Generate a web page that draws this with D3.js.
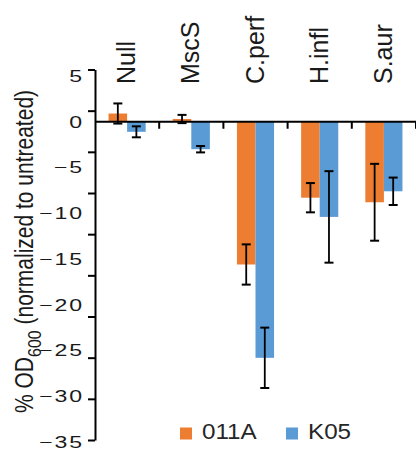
<!DOCTYPE html>
<html lang="en">
<head>
    <meta charset="UTF-8">
    <title>OD600 bar chart</title>
    <script src="https://d3js.org/d3.v7.min.js"></script>
    <style>
        body { margin: 0; background: #fff; }
        svg { display: block; font-family: "Liberation Sans", Arial, sans-serif; }
    </style>
</head>
<body>
    <div id="chart"></div>
    <script>
        const categories = ["Null", "MscS", "C.perf", "H.infl", "S.aur"];
        const series = ["011A", "K05"];
        const values011A = [0.9, 0.3, -15.6, -8.3, -8.8];
        const valuesK05 = [-1.1, -3.0, -25.8, -10.4, -7.6];
        const errors011A = [1.1, 0.45, 2.2, 1.6, 4.2];
        const errorsK05 = [0.6, 0.35, 3.3, 5.0, 1.5];
        const yTickLabels = [5, 0, -5, -10, -15, -20, -25, -30, -35];
        const yTickMarks = [0, 1, 2, 3, 4, 5, 6, 7, 8, 9];

        const w = 416;
        const h = 453;
        const axisX = 95;

        const color = d3.scaleOrdinal().domain(series).range(["#ED7D31", "#5B9BD5"]);

        // one row per bar
        const rows = [];
        categories.forEach((c, i) => {
            rows.push({ cat: c, s: "011A", v: values011A[i], e: errors011A[i] });
            rows.push({ cat: c, s: "K05", v: valuesK05[i], e: errorsK05[i] });
        });

        const xScale = d3.scaleBand().domain(categories).range([axisX, 416]).padding(0);
        const xInner = d3.scaleBand().domain(series)
                        .range([0, xScale.step()])
                        .paddingInner(0)
                        .paddingOuter(0.73);
        const yScale = d3.scaleLinear().domain([5, -35]).range([76, 442]);
        // tick marks of the source figure do not sit on the labels
        const tickScale = d3.scaleLinear().domain([0, 9]).range([69.5, 440]);

        const svg = d3.select("#chart")
            .append("svg")
            .attr("width", w)
            .attr("height", h);

        svg.selectAll("rect.bar")
            .data(rows)
            .enter()
            .append("rect")
            .attr("class", "bar")
            .attr("x", d => xScale(d.cat) + xInner(d.s))
            .attr("width", xInner.bandwidth())
            .attr("y", d => yScale(Math.max(0, d.v)))
            .attr("height", d => Math.abs(yScale(d.v) - yScale(0)))
            .attr("fill", d => color(d.s));

        // y axis: tick marks
        svg.append("g")
            .attr("transform", "translate(" + axisX + ",0)")
            .call(d3.axisLeft(tickScale).tickValues(yTickMarks).tickSize(7).tickSizeOuter(0).tickFormat(""))
            .call(g => g.selectAll("path, line").attr("stroke", "#000").attr("stroke-width", 2));

        // y axis: labels
        svg.append("g")
            .attr("transform", "translate(" + axisX + ",0)")
            .call(d3.axisLeft(yScale).tickValues(yTickLabels).tickSize(0).tickFormat(d3.format("d")))
            .call(g => g.select(".domain").remove())
            .call(g => g.selectAll("text")
                .attr("x", null)
                .attr("transform", "translate(-11,0) scale(1.4,1)")
                .attr("font-size", 16.5)
                .attr("letter-spacing", 1.4)
                .attr("fill", "#1a1a1a")
                .attr("font-family", "'Liberation Sans', Arial, sans-serif"));

        // x axis at zero
        svg.append("line")
            .attr("x1", axisX).attr("x2", w)
            .attr("y1", yScale(0)).attr("y2", yScale(0))
            .attr("stroke", "#000").attr("stroke-width", 2);

        svg.selectAll("line.xtick")
            .data(categories)
            .enter()
            .append("line")
            .attr("class", "xtick")
            .attr("x1", d => xScale(d) + xScale.step())
            .attr("x2", d => xScale(d) + xScale.step())
            .attr("y1", yScale(0))
            .attr("y2", yScale(0) + 7)
            .attr("stroke", "#000").attr("stroke-width", 2);

        // error bars
        const err = svg.selectAll("g.err")
            .data(rows)
            .enter()
            .append("g")
            .attr("class", "err")
            .attr("transform", d => "translate(" + (xScale(d.cat) + xInner(d.s) + xInner.bandwidth() / 2) + ",0)");
        err.append("line")
            .attr("y1", d => yScale(d.v + d.e)).attr("y2", d => yScale(d.v - d.e))
            .attr("stroke", "#000").attr("stroke-width", 1.8);
        err.append("line")
            .attr("x1", -4.5).attr("x2", 4.5)
            .attr("y1", d => yScale(d.v + d.e)).attr("y2", d => yScale(d.v + d.e))
            .attr("stroke", "#000").attr("stroke-width", 2);
        err.append("line")
            .attr("x1", -4.5).attr("x2", 4.5)
            .attr("y1", d => yScale(d.v - d.e)).attr("y2", d => yScale(d.v - d.e))
            .attr("stroke", "#000").attr("stroke-width", 2);

        // category labels above the plot
        svg.selectAll("text.cat")
            .data(categories)
            .enter()
            .append("text")
            .attr("class", "cat")
            .attr("transform", d => "translate(" + (xScale(d) + xScale.bandwidth() / 2) + ",84) rotate(-90)")
            .attr("dy", "0.32em")
            .attr("font-size", 25)
            .attr("fill", "#1a1a1a")
            .text(d => d);

        // y axis title
        const title = svg.append("text")
            .attr("transform", "translate(33,413) scale(1.2,1) rotate(-90)")
            .attr("font-size", 21)
            .attr("fill", "#1a1a1a");
        title.append("tspan").text("% OD");
        title.append("tspan").attr("font-size", 16).attr("dy", 6.5).text("600");
        title.append("tspan").attr("dy", -6.5).text(" (normalized to untreated)");

        // legend
        const legendX = [180, 286];
        const legend = svg.selectAll("g.legend")
            .data(series)
            .enter()
            .append("g")
            .attr("class", "legend")
            .attr("transform", (d, i) => "translate(" + legendX[i] + ",0)");
        legend.append("rect")
            .attr("x", 0).attr("y", 427.5)
            .attr("width", 12).attr("height", 12)
            .attr("fill", d => color(d));
        legend.append("text")
            .attr("transform", "translate(22,439) scale(1.1,1)")
            .attr("font-size", 22)
            .attr("fill", "#262626")
            .text(d => d);
    </script>
</body>
</html>
